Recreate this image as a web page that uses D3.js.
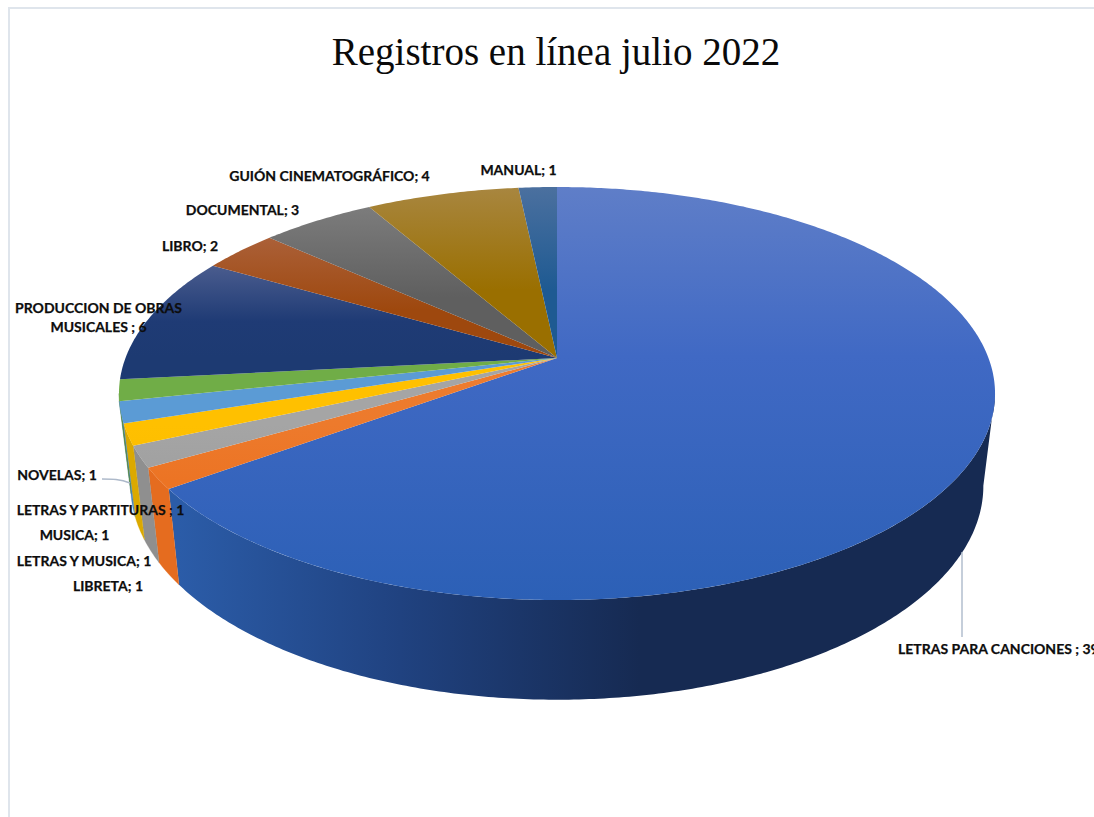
<!DOCTYPE html>
<html>
<head>
<meta charset="utf-8">
<script src="https://cdn.jsdelivr.net/npm/d3@7"></script>
<style>
body { margin: 0; background: #fff; overflow: hidden; }
</style>
</head>
<body>
<div id="chart"></div>
<script>
var categories = ['LETRAS PARA CANCIONES', 'LIBRETA', 'LETRAS Y MUSICA', 'MUSICA', 'LETRAS Y PARTITURAS', 'NOVELAS',
	'PRODUCCION DE OBRAS MUSICALES', 'LIBRO', 'DOCUMENTAL', 'GUIÓN CINEMATOGRÁFICO', 'MANUAL'];
var values = [39, 1, 1, 1, 1, 1, 6, 2, 3, 4, 1];
var title = 'Registros en línea julio 2022';

// [top of slice, middle, bottom] face colours, then wall left/right
var faceColors = [
	['#5f7ec8', '#4069c4', '#2c60b6'], ['#ed7d31', '#ed7a2c', '#ec7424'], ['#a5a5a5', '#a5a5a5', '#a0a0a0'],
	['#ffc000', '#ffc000', '#fcbd00'], ['#5b9bd5', '#5b9bd5', '#5b9bd5'], ['#70ad47', '#70ad47', '#70ad47'],
	['#4a5c8e', '#1f3b75', '#1d3a72'], ['#ab6038', '#9e480e', '#9e480e'], ['#7c7c7c', '#5f5f5f', '#5f5f5f'],
	['#a8863f', '#9a6f00', '#9a6f00'], ['#4b709f', '#1e5a92', '#1e5a92']
];
var wallColors = [
	['#2b5ca8', '#162a52'], ['#e56c1f', '#bf5b13'], ['#8f8f8f', '#7a7a7a'],
	['#dba900', '#c99c00'], ['#4a84bc', '#4a84bc'], ['#5a8c38', '#5a8c38'],
	['#1d3a72', '#1d3a72'], ['#9e480e', '#9e480e'], ['#5f5f5f', '#5f5f5f'],
	['#9a6f00', '#9a6f00'], ['#1e5a92', '#1e5a92']
];

// label text lines with hand placed positions, like the original chart
var labelLayout = [
	{ lines: ['LETRAS PARA CANCIONES ; 39'], x: 898, y: 654, anchor: 'start' },
	{ lines: ['LIBRETA; 1'], x: 108, y: 591, anchor: 'middle' },
	{ lines: ['LETRAS Y MUSICA; 1'], x: 84, y: 566, anchor: 'middle' },
	{ lines: ['MUSICA; 1'], x: 74.5, y: 540, anchor: 'middle' },
	{ lines: ['LETRAS Y PARTITURAS ; 1'], x: 100.5, y: 515, anchor: 'middle' },
	{ lines: ['NOVELAS; 1'], x: 57, y: 480, anchor: 'middle' },
	{ lines: ['PRODUCCION DE OBRAS', 'MUSICALES ; 6'], x: 98.5, y: 313, anchor: 'middle' },
	{ lines: ['LIBRO; 2'], x: 190, y: 251, anchor: 'middle' },
	{ lines: ['DOCUMENTAL; 3'], x: 242.5, y: 215, anchor: 'middle' },
	{ lines: ['GUIÓN CINEMATOGRÁFICO; 4'], x: 329.5, y: 181, anchor: 'middle' },
	{ lines: ['MANUAL; 1'], x: 518.5, y: 175, anchor: 'middle' }
];

var width = 1094;
var height = 817;

// The disc is seen in perspective: the centre of the pie is not the centre of the ellipse
var topPlane = { cx: 557, cy: 358, a: 431.5, b: 200.4, k: 0.172 };
var bottomPlane = { cx: 557, cy: 449, a: 420, b: 207.6, k: 0.172 };

function project(plane, angle) {
	var u = Math.sin(angle);
	var v = -Math.cos(angle);
	var w = 1 - plane.k * v;
	return [plane.cx + plane.a * u / w, plane.cy + plane.b * v / w];
}

function arcPoints(plane, a0, a1) {
	var n = Math.max(2, Math.ceil(Math.abs(a1 - a0) / 0.01));
	return d3.range(n + 1).map(function(i) {
		return project(plane, a0 + (a1 - a0) * i / n);
	});
}

var line = d3.line();

var svg = d3.select('#chart')
	.append('svg')
	.attr('width', width)
	.attr('height', height)
	.style('display', 'block');

var defs = svg.append('defs');

var pie = d3.pie().sort(null).value(function(d) { return d; });
var slices = pie(values);

// Colours of the faces run from top to bottom, walls from left to right
slices.forEach(function(s, i) {
	var face = defs.append('linearGradient')
		.attr('id', 'face' + i)
		.attr('gradientUnits', 'userSpaceOnUse')
		.attr('x1', 0).attr('x2', 0)
		.attr('y1', i == 0 ? 187 : (i >= 6 ? Math.min(project(topPlane, s.startAngle)[1], project(topPlane, s.endAngle)[1]) : 340))
		.attr('y2', i == 0 ? 600 : (i >= 6 ? 358 : 480));
	face.append('stop').attr('offset', 0).attr('stop-color', faceColors[i][0]);
	face.append('stop').attr('offset', i == 0 ? 0.41 : 0.6).attr('stop-color', faceColors[i][1]);
	face.append('stop').attr('offset', 1).attr('stop-color', faceColors[i][2]);
});

var blueWall = defs.append('linearGradient')
	.attr('id', 'wall0')
	.attr('gradientUnits', 'userSpaceOnUse')
	.attr('x1', 179).attr('x2', 640)
	.attr('y1', 0).attr('y2', 0);
blueWall.append('stop').attr('offset', 0).attr('stop-color', wallColors[0][0]);
blueWall.append('stop').attr('offset', 0.48).attr('stop-color', '#204280');
blueWall.append('stop').attr('offset', 1).attr('stop-color', wallColors[0][1]);

// Only the front of the side wall shows
var visibleFrom = Math.PI - Math.asin(Math.sqrt(1 - 0.172 * 0.172));
var visibleTo = 2 * Math.PI - visibleFrom;

var walls = svg.append('g');
slices.forEach(function(s, i) {
	var a0 = Math.max(s.startAngle, visibleFrom);
	var a1 = Math.min(s.endAngle, visibleTo);
	if (a1 <= a0) return;
	var pts = arcPoints(topPlane, a0, a1).concat(arcPoints(bottomPlane, a1, a0));
	walls.append('path')
		.attr('d', line(pts) + 'Z')
		.attr('fill', i == 0 ? 'url(#wall0)' : wallColors[i][0])
		.attr('stroke', i == 0 ? 'none' : wallColors[i][0])
		.attr('stroke-width', 0.3);
});

svg.append('g')
	.selectAll('path')
	.data(slices)
	.enter()
	.append('path')
	.attr('d', function(d) {
		return line([[topPlane.cx, topPlane.cy]].concat(arcPoints(topPlane, d.startAngle, d.endAngle))) + 'Z';
	})
	.attr('fill', function(d, i) { return 'url(#face' + i + ')'; })
	.append('title')
	.text(function(d, i) { return categories[i] + '; ' + d.value; });

// Chart frame, cut off by the picture at right and bottom
svg.append('path')
	.attr('d', 'M9,817V8H1094')
	.attr('fill', 'none')
	.attr('stroke', '#dfe5ec')
	.attr('stroke-width', 2);

// Leader lines
var leaders = svg.append('g')
	.attr('fill', 'none')
	.attr('stroke', '#adb9ca')
	.attr('stroke-width', 1.4);
leaders.append('path').attr('d', 'M962,552V637');
leaders.append('path').attr('d', 'M102,479C112,479 120,479 130,483');

svg.append('text')
	.attr('x', 556)
	.attr('y', 65)
	.attr('text-anchor', 'middle')
	.style('font-family', '"Liberation Serif"')
	.style('font-size', '39px')
	.style('fill', '#0a0a0a')
	.text(title);

var labels = svg.append('g')
	.style('font-family', 'Lato')
	.style('font-weight', 700)
	.style('font-size', '14px')
	.style('fill', '#0d0d0d')
	.style('stroke', '#0d0d0d')
	.style('stroke-width', 0.25);

labelLayout.forEach(function(l) {
	l.lines.forEach(function(t, j) {
		labels.append('text')
			.attr('x', l.x)
			.attr('y', l.y + j * 19)
			.attr('text-anchor', l.anchor)
			.text(t);
	});
});
</script>
</body>
</html>
